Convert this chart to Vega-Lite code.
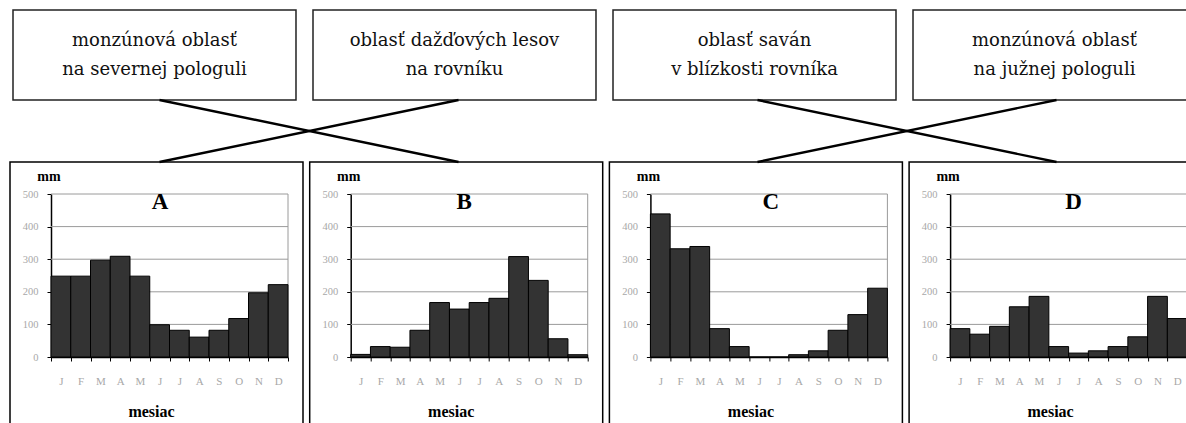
{
  "$schema": "https://vega.github.io/schema/vega-lite/v6.json",
  "padding": {"left": 9, "top": 9, "right": 0, "bottom": 0},
  "background": "white",
  "datasets": {
    "boxes": [
      {"col": "A", "label": ["monzúnová oblasť", "na severnej pologuli"]},
      {"col": "B", "label": ["oblasť dažďových lesov", "na rovníku"]},
      {"col": "C", "label": ["oblasť saván", "v blízkosti rovníka"]},
      {"col": "D", "label": ["monzúnová oblasť", "na južnej pologuli"]}
    ],
    "links": [
      {"from": "A", "to": "B"},
      {"from": "B", "to": "A"},
      {"from": "C", "to": "D"},
      {"from": "D", "to": "C"}
    ],
    "grid": [{"v": 100}, {"v": 200}, {"v": 300}, {"v": 400}, {"v": 500}],
    "frame": [{"side": "right"}],
    "rain": [
      {"panel": "A", "month": "jan", "mm": 248}, {"panel": "A", "month": "feb", "mm": 248},
      {"panel": "A", "month": "mar", "mm": 297}, {"panel": "A", "month": "apr", "mm": 309},
      {"panel": "A", "month": "máj", "mm": 248}, {"panel": "A", "month": "jún", "mm": 99},
      {"panel": "A", "month": "júl", "mm": 82}, {"panel": "A", "month": "aug", "mm": 61},
      {"panel": "A", "month": "sep", "mm": 82}, {"panel": "A", "month": "okt", "mm": 118},
      {"panel": "A", "month": "nov", "mm": 197}, {"panel": "A", "month": "dec", "mm": 222},
      {"panel": "B", "month": "jan", "mm": 8}, {"panel": "B", "month": "feb", "mm": 32},
      {"panel": "B", "month": "mar", "mm": 30}, {"panel": "B", "month": "apr", "mm": 82},
      {"panel": "B", "month": "máj", "mm": 167}, {"panel": "B", "month": "jún", "mm": 147},
      {"panel": "B", "month": "júl", "mm": 167}, {"panel": "B", "month": "aug", "mm": 180},
      {"panel": "B", "month": "sep", "mm": 308}, {"panel": "B", "month": "okt", "mm": 235},
      {"panel": "B", "month": "nov", "mm": 56}, {"panel": "B", "month": "dec", "mm": 7},
      {"panel": "C", "month": "jan", "mm": 439}, {"panel": "C", "month": "feb", "mm": 332},
      {"panel": "C", "month": "mar", "mm": 339}, {"panel": "C", "month": "apr", "mm": 87},
      {"panel": "C", "month": "máj", "mm": 32}, {"panel": "C", "month": "jún", "mm": 0},
      {"panel": "C", "month": "júl", "mm": 0}, {"panel": "C", "month": "aug", "mm": 7},
      {"panel": "C", "month": "sep", "mm": 19}, {"panel": "C", "month": "okt", "mm": 82},
      {"panel": "C", "month": "nov", "mm": 130}, {"panel": "C", "month": "dec", "mm": 211},
      {"panel": "D", "month": "jan", "mm": 87}, {"panel": "D", "month": "feb", "mm": 70},
      {"panel": "D", "month": "mar", "mm": 94}, {"panel": "D", "month": "apr", "mm": 154},
      {"panel": "D", "month": "máj", "mm": 186}, {"panel": "D", "month": "jún", "mm": 32},
      {"panel": "D", "month": "júl", "mm": 12}, {"panel": "D", "month": "aug", "mm": 19},
      {"panel": "D", "month": "sep", "mm": 32}, {"panel": "D", "month": "okt", "mm": 62},
      {"panel": "D", "month": "nov", "mm": 186}, {"panel": "D", "month": "dec", "mm": 118}
    ]
  },
  "spacing": 0,
  "bounds": "flush",
  "vconcat": [
    {
      "width": 1186,
      "height": 90,
      "data": {"name": "boxes"},
      "layer": [
        {
          "mark": {"type": "rect", "fill": "#ffffff", "stroke": "#222222", "strokeWidth": 1.5},
          "encoding": {
            "x": {"field": "col", "type": "nominal", "axis": null,
                  "scale": {"type": "band", "domain": ["A", "B", "C", "D"], "range": [3, 1186], "paddingInner": 0.0567, "paddingOuter": 0}}
          }
        },
        {
          "mark": {"type": "text", "font": "DejaVu Serif", "fontSize": 18, "lineHeight": 29, "dy": -14, "color": "#111111"},
          "encoding": {
            "x": {"field": "col", "type": "nominal", "axis": null},
            "text": {"field": "label"}
          }
        }
      ]
    },
    {
      "width": 1186,
      "height": 62,
      "data": {"name": "links"},
      "mark": {"type": "rule", "strokeWidth": 2.4, "color": "#000000"},
      "encoding": {
        "x": {"field": "from", "type": "nominal", "axis": null,
              "scale": {"type": "point", "domain": ["A", "B", "C", "D"], "range": [0, 1196], "padding": 0.5}},
        "x2": {"field": "to"},
        "y": {"datum": "top", "type": "nominal", "axis": null,
              "scale": {"type": "point", "domain": ["top", "bottom"], "range": [0, 62], "padding": 0}},
        "y2": {"datum": "bottom"}
      }
    },
    {
      "spacing": 6.7,
      "bounds": "flush",
      "hconcat": [
        {
          "width": 293, "height": 263,
          "view": {"stroke": "#000000", "strokeWidth": 1.5},
          "title": {"text": "A", "dx": 3.5},
          "layer": [
            {
              "data": {"name": "grid"},
              "mark": {"type": "rule", "color": "#9a9a9a", "strokeWidth": 1},
              "encoding": {
                "x": {"datum": 0, "type": "quantitative", "axis": null, "scale": {"domain": [0, 1], "range": [41, 278]}},
                "x2": {"datum": 1},
                "y": {"field": "v", "type": "quantitative", "title": "mm", "axis": {"values": [0, 100, 200, 300, 400, 500]}}
              }
            },
            {
              "data": {"name": "frame"},
              "mark": {"type": "rule", "color": "#9a9a9a", "strokeWidth": 1},
              "encoding": {
                "x": {"datum": 1, "type": "quantitative", "axis": null, "scale": {"domain": [0, 1], "range": [41, 278]}},
                "y": {"datum": 0, "type": "quantitative", "title": "mm", "axis": {"values": [0, 100, 200, 300, 400, 500]}},
                "y2": {"datum": 500}
              }
            },
            {
              "data": {"name": "rain"},
              "transform": [{"filter": "datum.panel === 'A'"}],
              "mark": {"type": "bar", "fill": "#333333", "stroke": "#000000", "strokeWidth": 1},
              "encoding": {
                "x": {"field": "month", "type": "ordinal", "title": "mesiac",
                      "sort": ["jan", "feb", "mar", "apr", "máj", "jún", "júl", "aug", "sep", "okt", "nov", "dec"],
                      "scale": {"range": [41, 278], "paddingInner": 0, "paddingOuter": 0}},
                "y": {"field": "mm", "type": "quantitative", "title": "mm",
                      "scale": {"domain": [0, 500], "range": [195, 32], "nice": false},
                      "axis": {"values": [0, 100, 200, 300, 400, 500]}}
              }
            }
          ],
          "resolve": {"scale": {"x": "independent"}}
        },
        {
          "width": 293, "height": 263,
          "view": {"stroke": "#000000", "strokeWidth": 1.5},
          "title": {"text": "B", "dx": 8},
          "layer": [
            {
              "data": {"name": "grid"},
              "mark": {"type": "rule", "color": "#9a9a9a", "strokeWidth": 1},
              "encoding": {
                "x": {"datum": 0, "type": "quantitative", "axis": null, "scale": {"domain": [0, 1], "range": [41, 278]}},
                "x2": {"datum": 1},
                "y": {"field": "v", "type": "quantitative", "title": "mm", "axis": {"values": [0, 100, 200, 300, 400, 500]}}
              }
            },
            {
              "data": {"name": "frame"},
              "mark": {"type": "rule", "color": "#9a9a9a", "strokeWidth": 1},
              "encoding": {
                "x": {"datum": 1, "type": "quantitative", "axis": null, "scale": {"domain": [0, 1], "range": [41, 278]}},
                "y": {"datum": 0, "type": "quantitative", "title": "mm", "axis": {"values": [0, 100, 200, 300, 400, 500]}},
                "y2": {"datum": 500}
              }
            },
            {
              "data": {"name": "rain"},
              "transform": [{"filter": "datum.panel === 'B'"}],
              "mark": {"type": "bar", "fill": "#333333", "stroke": "#000000", "strokeWidth": 1},
              "encoding": {
                "x": {"field": "month", "type": "ordinal", "title": "mesiac",
                      "sort": ["jan", "feb", "mar", "apr", "máj", "jún", "júl", "aug", "sep", "okt", "nov", "dec"],
                      "scale": {"range": [41, 278], "paddingInner": 0, "paddingOuter": 0}},
                "y": {"field": "mm", "type": "quantitative", "title": "mm",
                      "scale": {"domain": [0, 500], "range": [195, 32], "nice": false},
                      "axis": {"values": [0, 100, 200, 300, 400, 500]}}
              }
            }
          ],
          "resolve": {"scale": {"x": "independent"}}
        },
        {
          "width": 293, "height": 263,
          "view": {"stroke": "#000000", "strokeWidth": 1.5},
          "title": {"text": "C", "dx": 15},
          "layer": [
            {
              "data": {"name": "grid"},
              "mark": {"type": "rule", "color": "#9a9a9a", "strokeWidth": 1},
              "encoding": {
                "x": {"datum": 0, "type": "quantitative", "axis": null, "scale": {"domain": [0, 1], "range": [41, 278]}},
                "x2": {"datum": 1},
                "y": {"field": "v", "type": "quantitative", "title": "mm", "axis": {"values": [0, 100, 200, 300, 400, 500]}}
              }
            },
            {
              "data": {"name": "frame"},
              "mark": {"type": "rule", "color": "#9a9a9a", "strokeWidth": 1},
              "encoding": {
                "x": {"datum": 1, "type": "quantitative", "axis": null, "scale": {"domain": [0, 1], "range": [41, 278]}},
                "y": {"datum": 0, "type": "quantitative", "title": "mm", "axis": {"values": [0, 100, 200, 300, 400, 500]}},
                "y2": {"datum": 500}
              }
            },
            {
              "data": {"name": "rain"},
              "transform": [{"filter": "datum.panel === 'C'"}],
              "mark": {"type": "bar", "fill": "#333333", "stroke": "#000000", "strokeWidth": 1},
              "encoding": {
                "x": {"field": "month", "type": "ordinal", "title": "mesiac",
                      "sort": ["jan", "feb", "mar", "apr", "máj", "jún", "júl", "aug", "sep", "okt", "nov", "dec"],
                      "scale": {"range": [41, 278], "paddingInner": 0, "paddingOuter": 0}},
                "y": {"field": "mm", "type": "quantitative", "title": "mm",
                      "scale": {"domain": [0, 500], "range": [195, 32], "nice": false},
                      "axis": {"values": [0, 100, 200, 300, 400, 500]}}
              }
            }
          ],
          "resolve": {"scale": {"x": "independent"}}
        },
        {
          "width": 293, "height": 263,
          "view": {"stroke": "#000000", "strokeWidth": 1.5},
          "title": {"text": "D", "dx": 18},
          "layer": [
            {
              "data": {"name": "grid"},
              "mark": {"type": "rule", "color": "#9a9a9a", "strokeWidth": 1},
              "encoding": {
                "x": {"datum": 0, "type": "quantitative", "axis": null, "scale": {"domain": [0, 1], "range": [41, 278]}},
                "x2": {"datum": 1},
                "y": {"field": "v", "type": "quantitative", "title": "mm", "axis": {"values": [0, 100, 200, 300, 400, 500]}}
              }
            },
            {
              "data": {"name": "frame"},
              "mark": {"type": "rule", "color": "#9a9a9a", "strokeWidth": 1},
              "encoding": {
                "x": {"datum": 1, "type": "quantitative", "axis": null, "scale": {"domain": [0, 1], "range": [41, 278]}},
                "y": {"datum": 0, "type": "quantitative", "title": "mm", "axis": {"values": [0, 100, 200, 300, 400, 500]}},
                "y2": {"datum": 500}
              }
            },
            {
              "data": {"name": "rain"},
              "transform": [{"filter": "datum.panel === 'D'"}],
              "mark": {"type": "bar", "fill": "#333333", "stroke": "#000000", "strokeWidth": 1},
              "encoding": {
                "x": {"field": "month", "type": "ordinal", "title": "mesiac",
                      "sort": ["jan", "feb", "mar", "apr", "máj", "jún", "júl", "aug", "sep", "okt", "nov", "dec"],
                      "scale": {"range": [41, 278], "paddingInner": 0, "paddingOuter": 0}},
                "y": {"field": "mm", "type": "quantitative", "title": "mm",
                      "scale": {"domain": [0, 500], "range": [195, 32], "nice": false},
                      "axis": {"values": [0, 100, 200, 300, 400, 500]}}
              }
            }
          ],
          "resolve": {"scale": {"x": "independent"}}
        }
      ]
    }
  ],
  "config": {
    "view": {"stroke": null},
    "title": {"font": "Liberation Serif", "fontSize": 23, "fontWeight": "bold", "color": "#000000", "offset": -52, "baseline": "middle", "anchor": "middle"},
    "axis": {
      "labelFont": "Liberation Serif", "labelColor": "#a8a8a8",
      "titleFont": "Liberation Serif", "titleFontWeight": "bold", "titleColor": "#000000",
      "domainColor": "#000000", "tickColor": "#000000", "grid": false
    },
    "axisLeft": {
      "offset": -41, "tickSize": 4, "labelPadding": 9, "labelFontSize": 10.5,
      "titleAngle": 0, "titleX": -2.5, "titleY": 14, "titleAlign": "center", "titleBaseline": "middle",
      "titleFontSize": 14, "domainWidth": 1.5
    },
    "axisBottom": {
      "offset": -68, "labelExpr": "upper(substring(datum.label, 0, 1))", "labelAngle": 0,
      "tickBand": "extent", "tickSize": 4, "labelPadding": 14, "labelFontSize": 11,
      "titleX": 141, "titleY": 54, "titleFontSize": 16, "titleBaseline": "middle", "titleAlign": "center",
      "domainWidth": 1.5
    }
  }
}
